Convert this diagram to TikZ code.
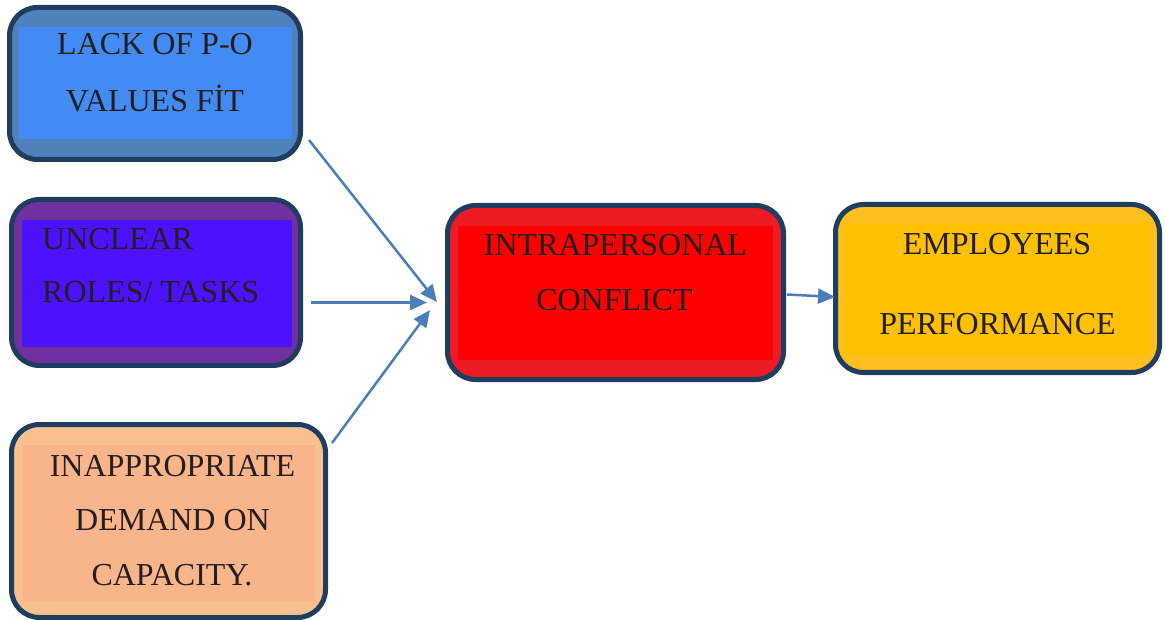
\documentclass[tikz,border=0pt]{standalone}
\usepackage{fontspec}
\setmainfont{Liberation Serif}
\usetikzlibrary{arrows.meta}

\definecolor{navy}{RGB}{31,61,94}
\definecolor{ink}{RGB}{35,31,32}
\definecolor{linkblue}{RGB}{74,126,187}
\definecolor{blueout}{RGB}{79,129,189}
\definecolor{bluein}{RGB}{66,139,244}
\definecolor{purpout}{RGB}{112,48,160}
\definecolor{purpin}{RGB}{76,18,255}
\definecolor{peachout}{RGB}{249,192,143}
\definecolor{peachin}{RGB}{250,180,138}
\definecolor{redout}{RGB}{237,28,36}
\definecolor{redin}{RGB}{255,0,0}
\definecolor{goldout}{RGB}{252,191,30}
\definecolor{goldin}{RGB}{255,192,0}

\begin{document}
\begin{tikzpicture}[x=1pt,y=-1pt,
  frame/.style={draw=navy, line width=5pt, rounded corners=28pt, inner sep=0pt},
  panel/.style={inner sep=0pt, draw=none},
  lbl/.style={anchor=base, inner sep=0pt, text=ink, font=\fontsize{32}{38}\selectfont},
  lbll/.style={lbl, anchor=base west},
  link/.style={draw=linkblue, line width=2.5pt, -{Triangle[length=17pt,width=15pt]}}]

\useasboundingbox (0,0) rectangle (1165,620);

% cause boxes
\node[frame, fill=blueout, minimum width=291pt, minimum height=152pt] (fit) at (155,83.5) {};
\node[panel, fill=bluein, minimum width=273pt, minimum height=112pt] (fitin) at (155.5,83) {};
\node[lbl] (fit1) at (155,55) {LACK OF P-O};
\node[lbl] (fit2) at (155,112) {VALUES FİT};

\node[frame, fill=purpout, minimum width=289pt, minimum height=166pt] (roles) at (156,282.5) {};
\node[panel, fill=purpin, minimum width=270pt, minimum height=127pt] (rolesin) at (157,283.5) {};
\node[lbll] (roles1) at (42,250) {UNCLEAR};
\node[lbll] (roles2) at (42,303) {ROLES/ TASKS};

\node[frame, fill=peachout, minimum width=314pt, minimum height=193pt] (demand) at (168.5,521) {};
\node[panel, fill=peachin, minimum width=292pt, minimum height=157pt] (demandin) at (169,523.5) {};
\node[lbl] (demand1) at (172.5,476) {INAPPROPRIATE};
\node[lbl] (demand2) at (172.5,530) {DEMAND ON};
\node[lbl] (demand3) at (172,585) {CAPACITY.};

% central box
\node[frame, fill=redout, minimum width=336pt, minimum height=174pt] (conflict) at (615.5,292.5) {};
\node[panel, fill=redin, minimum width=315pt, minimum height=134pt] (conflictin) at (615.5,293) {};
\node[lbl] (conflict1) at (615.5,256) {INTRAPERSONAL};
\node[lbl] (conflict2) at (614.5,311) {CONFLICT};

% outcome box
\node[frame, fill=goldout, minimum width=324pt, minimum height=168pt] (perf) at (997.5,288.5) {};
\node[panel, fill=goldin, minimum width=305pt, minimum height=132pt] (perfin) at (997.5,289) {};
\node[lbl] (perf1) at (997,255) {EMPLOYEES};
\node[lbl] (perf2) at (997.5,335) {PERFORMANCE};

% arrow end points
\coordinate (s1) at (309,140);
\coordinate (e1) at (437,302);
\coordinate (s2) at (311,302.5);
\coordinate (e2) at (427,302.5);
\coordinate (s3) at (332,443);
\coordinate (e3) at (430,310);
\coordinate (s4) at (787,294.5);
\coordinate (e4) at (835,297);

\draw[link] (s1) -- (e1);
\draw[link] (s2) -- (e2);
\draw[link] (s3) -- (e3);
\draw[link] (s4) -- (e4);
\end{tikzpicture}
\end{document}
